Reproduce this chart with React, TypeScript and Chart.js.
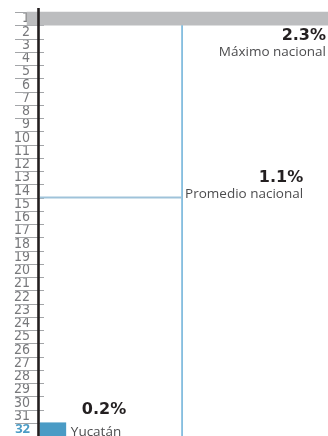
import { useEffect, useRef } from "react";
import { Chart, registerables } from "chart.js";

Chart.register(...registerables);

// Ranking positions (1 = highest)
const ranks = [
  "1", "2", "3", "4", "5", "6", "7", "8", "9", "10", "11", "12", "13", "14", "15", "16",
  "17", "18", "19", "20", "21", "22", "23", "24", "25", "26", "27", "28", "29", "30", "31", "32",
];

const maximoNacional = 2.3;
const maximoRank = "1";
const promedioNacional = 1.1;
const promedioRank = 14.5; // between positions 14 and 15
const yucatanValor = 0.2;
const yucatanRank = "32";

const maximoLabel = "Máximo nacional";
const promedioLabel = "Promedio nacional";
const yucatanLabel = "Yucatán";

const maxSeries = ranks.map((r) => (r === maximoRank ? maximoNacional : null));
const yucatanSeries = ranks.map((r) => (r === yucatanRank ? yucatanValor : null));

const fmt = (v: number) => v.toFixed(1) + "%";

const GRAY_BAR = "#bcbdbf";
const BLUE_BAR = "#4a9bc5";
const AVG_V = "#6aafd8";
const AVG_H = "#9fc3da";
const TICK_GRAY = "#77787b";
const LINE_GRAY = "#a3a5a8";
const TXT_DARK = "#231f20";
const TXT_MID = "#4d4d4f";

const LABEL_FONT = "'Liberation Sans Narrow', 'DejaVu Sans Condensed', sans-serif";
const TEXT_FONT = "'Open Sans', 'Noto Sans', sans-serif";
const BOLD_FONT = "'DejaVu Sans', 'Open Sans', sans-serif";

const overlay = {
  id: "overlay",
  beforeDatasetsDraw(chart: any) {
    const { ctx, scales } = chart;
    const x = scales.x;
    const y = scales.y;
    const x0 = x.getPixelForValue(0);
    ctx.save();
    ctx.strokeStyle = LINE_GRAY;
    ctx.lineWidth = 1;
    for (let i = 0; i <= ranks.length; i++) {
      const py = Math.round(y.getPixelForValue(i - 0.5)) + 0.5;
      ctx.beginPath();
      ctx.moveTo(x0 - 25, py);
      ctx.lineTo(x0 + 4, py);
      ctx.stroke();
    }
    ctx.restore();
  },
  afterDatasetsDraw(chart: any) {
    const { ctx, chartArea, scales } = chart;
    const x = scales.x;
    const y = scales.y;
    const x0 = x.getPixelForValue(0);
    const avgX = x.getPixelForValue(promedioNacional);
    const avgY = y.getPixelForValue(promedioRank - 1);
    const topBarBottom = y.getPixelForValue(ranks.indexOf(maximoRank) + 0.5);
    const yIdx = ranks.indexOf(yucatanRank);
    const yucBarTop = y.getPixelForValue(yIdx - 0.5);
    const yucCenter = y.getPixelForValue(yIdx);
    const yucEnd = x.getPixelForValue(yucatanValor);

    ctx.save();
    // average lines
    ctx.strokeStyle = AVG_V;
    ctx.lineWidth = 1.5;
    ctx.beginPath();
    ctx.moveTo(avgX, topBarBottom);
    ctx.lineTo(avgX, chartArea.bottom);
    ctx.stroke();

    ctx.strokeStyle = AVG_H;
    ctx.lineWidth = 2.2;
    ctx.beginPath();
    ctx.moveTo(x0, avgY);
    ctx.lineTo(avgX, avgY);
    ctx.stroke();

    // axis line
    ctx.strokeStyle = "#231f20";
    ctx.lineWidth = 2.6;
    ctx.beginPath();
    ctx.moveTo(x0 - 1.5, chartArea.top - 4);
    ctx.lineTo(x0 - 1.5, chartArea.bottom);
    ctx.stroke();

    // annotations
    const right = chartArea.right - 2;
    ctx.textBaseline = "alphabetic";

    ctx.fillStyle = TXT_DARK;
    ctx.font = `bold 16px ${BOLD_FONT}`;
    ctx.textAlign = "right";
    ctx.fillText(fmt(maximoNacional), right, topBarBottom + 15);
    ctx.fillStyle = TXT_MID;
    ctx.font = `400 13.5px ${TEXT_FONT}`;
    ctx.fillText(maximoLabel, right, topBarBottom + 31);

    ctx.font = `400 13.5px ${TEXT_FONT}`;
    const pw = ctx.measureText(promedioLabel).width;
    ctx.textAlign = "left";
    ctx.fillText(promedioLabel, avgX + 3, avgY);
    ctx.fillStyle = TXT_DARK;
    ctx.font = `bold 16px ${BOLD_FONT}`;
    ctx.textAlign = "right";
    ctx.fillText(fmt(promedioNacional), avgX + 3 + pw, avgY - 16);

    ctx.textAlign = "left";
    ctx.fillText(fmt(yucatanValor), yucEnd + 16, yucBarTop - 8.5);
    ctx.fillStyle = TXT_MID;
    ctx.font = `400 13.5px ${TEXT_FONT}`;
    ctx.textBaseline = "middle";
    ctx.fillText(yucatanLabel, yucEnd + 5, yucCenter + 3);
    ctx.restore();
  },
};

export default function App() {
  const ref = useRef<HTMLCanvasElement | null>(null);

  useEffect(() => {
    document.body.style.margin = "0";
    if (!ref.current) return;
    const chart = new Chart(ref.current, {
      type: "bar",
      data: {
        labels: ranks,
        datasets: [
          {
            label: maximoLabel,
            data: maxSeries,
            backgroundColor: GRAY_BAR,
            base: -0.1,
            grouped: false,
            barPercentage: 1,
            categoryPercentage: 1,
            clip: false,
          } as any,
          {
            label: yucatanLabel,
            data: yucatanSeries,
            backgroundColor: BLUE_BAR,
            grouped: false,
            barPercentage: 1,
            categoryPercentage: 1,
            clip: false,
          } as any,
        ],
      },
      options: {
        indexAxis: "y",
        animation: false,
        responsive: false,
        devicePixelRatio: 1,
        layout: { padding: { top: 12, left: 0, right: 0, bottom: 0 } },
        plugins: { legend: { display: false }, tooltip: { enabled: false } },
        scales: {
          x: { display: false, min: 0, max: 2.23 },
          y: {
            offset: true,
            border: { display: false },
            grid: { display: false, drawTicks: false },
            afterFit: (s: any) => {
              s.width = 40;
              s.paddingTop = 0;
              s.paddingBottom = 0;
            },
            ticks: {
              autoSkip: false,
              padding: 10,
              color: (c: any) => (c.index === ranks.indexOf(yucatanRank) ? BLUE_BAR : TICK_GRAY),
              font: (c: any) =>
                c.index === ranks.indexOf(yucatanRank)
                  ? { family: TEXT_FONT, size: 13, weight: "bold" }
                  : { family: LABEL_FONT, size: 14, weight: "normal" },
            },
          },
        },
      },
      plugins: [overlay],
    });
    return () => chart.destroy();
  }, []);

  return (
    <div style={{ width: 328, height: 436 }}>
      <canvas ref={ref} width={328} height={436} />
    </div>
  );
}
